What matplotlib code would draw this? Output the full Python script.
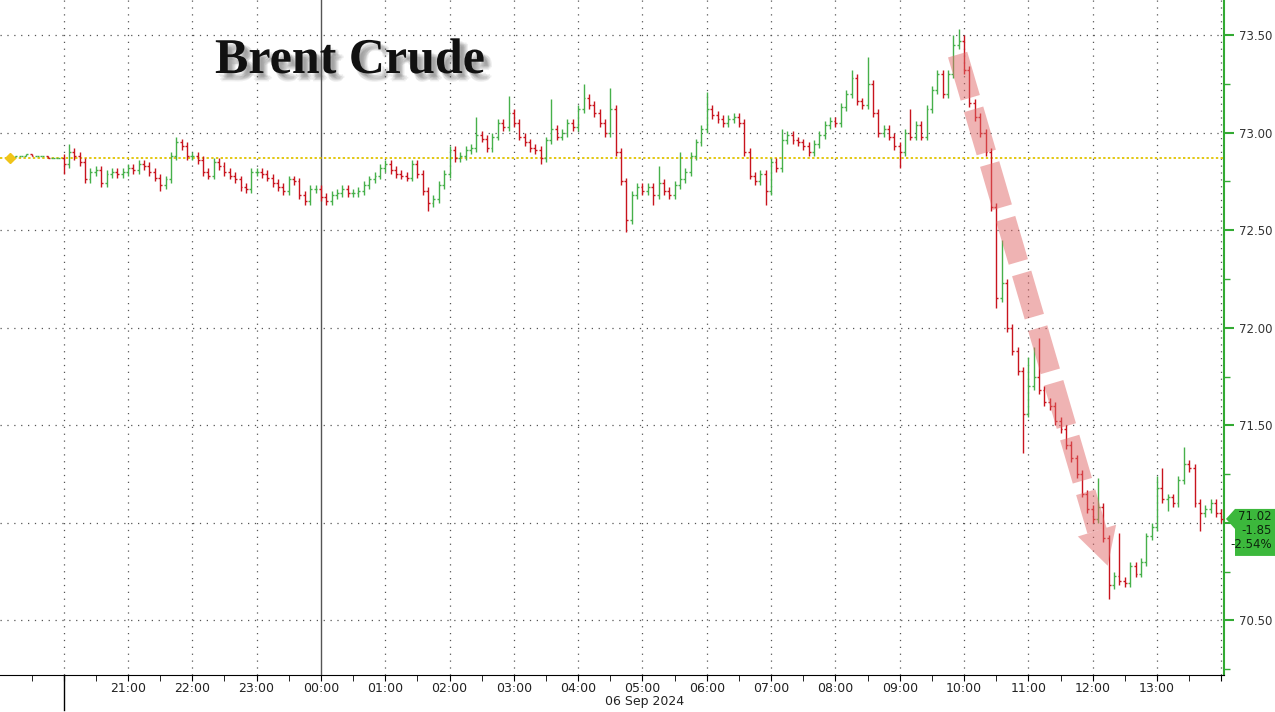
import numpy as np
import pandas as pd
import matplotlib
matplotlib.use("Agg")
import matplotlib.pyplot as plt
import matplotlib.dates as mdates
import matplotlib.patheffects as pe
from matplotlib.collections import LineCollection
from matplotlib.patches import Polygon
from matplotlib.ticker import FuncFormatter, MultipleLocator
from matplotlib.transforms import IdentityTransform, blended_transform_factory

# ----------------------
# Data: Brent 5-minute bars, 05 Sep 19:10 -> 06 Sep 14:00
# ----------------------
first_bar = "2024-09-05 19:10"
bar_freq = "5min"
prev_close = 72.87

closes_evening = [
    72.87, 72.88, 72.88, 72.89, 72.88, 72.88, 72.88, 72.87, 72.87, 72.87,          # 19:10
    72.84, 72.90, 72.88, 72.85, 72.76, 72.80, 72.81, 72.74, 72.79, 72.80, 72.79, 72.80,  # 20:00
    72.82, 72.81, 72.84, 72.83, 72.80, 72.77, 72.73, 72.76, 72.88, 72.95, 72.93, 72.88,  # 21:00
    72.88, 72.86, 72.80, 72.78, 72.85, 72.83, 72.80, 72.78, 72.76, 72.72, 72.71, 72.80,  # 22:00
    72.80, 72.79, 72.77, 72.74, 72.72, 72.70, 72.76, 72.75, 72.68, 72.65, 72.71, 72.71,  # 23:00
]
closes_overnight = [
    72.67, 72.65, 72.68, 72.69, 72.71, 72.69, 72.69, 72.70, 72.73, 72.76, 72.78, 72.82,  # 00:00
    72.84, 72.81, 72.79, 72.78, 72.77, 72.84, 72.79, 72.70, 72.64, 72.66, 72.73, 72.79,  # 01:00
    72.91, 72.87, 72.88, 72.91, 72.92, 72.99, 72.97, 72.92, 72.98, 73.05, 73.03, 73.10,  # 02:00
    73.05, 72.98, 72.95, 72.92, 72.91, 72.87, 72.96, 73.02, 72.98, 73.00, 73.05, 73.03,  # 03:00
    73.12, 73.18, 73.14, 73.10, 73.05, 73.00, 73.12, 72.90, 72.75, 72.55, 72.68, 72.72,  # 04:00
    72.70, 72.72, 72.68, 72.74, 72.70, 72.68, 72.73, 72.76, 72.80, 72.88, 72.95, 73.02,  # 05:00
]
closes_morning = [
    73.12, 73.09, 73.07, 73.05, 73.07, 73.08, 73.05, 72.90, 72.78, 72.75, 72.79, 72.70,  # 06:00
    72.85, 72.82, 72.96, 72.99, 72.96, 72.95, 72.93, 72.90, 72.94, 72.99, 73.04, 73.06,  # 07:00
    73.05, 73.13, 73.20, 73.28, 73.16, 73.14, 73.25, 73.10, 73.00, 73.02, 72.98, 72.93,  # 08:00
    72.90, 73.00, 72.98, 73.04, 72.98, 73.12, 73.22, 73.30, 73.20, 73.30, 73.45, 73.47,  # 09:00
]
closes_selloff = [
    73.32, 73.15, 73.08, 73.00, 72.90, 72.62, 72.15, 72.23, 72.00, 71.88, 71.78, 71.56,  # 10:00
    71.70, 71.75, 71.68, 71.62, 71.60, 71.52, 71.48, 71.40, 71.33, 71.25, 71.15, 71.07,  # 11:00
    71.02, 71.08, 70.92, 70.68, 70.73, 70.70, 70.69, 70.78, 70.74, 70.80, 70.93, 70.98,  # 12:00
    71.18, 71.12, 71.13, 71.10, 71.22, 71.30, 71.28, 71.10, 71.05, 71.07, 71.10, 71.05,  # 13:00
    71.02,
]

# bars whose wick reaches further than the body
wick_highs = {
    "20:05": 72.94, "21:45": 72.98, "02:25": 73.08, "02:55": 73.19, "03:35": 73.17,
    "04:05": 73.25, "04:30": 73.23, "05:15": 72.83, "05:35": 72.90, "06:00": 73.21,
    "07:10": 73.02, "08:15": 73.32, "08:30": 73.39, "09:10": 73.12, "09:50": 73.50,
    "09:55": 73.53, "10:00": 73.50, "10:35": 72.45, "11:00": 71.85, "11:05": 71.90,
    "11:10": 71.95, "12:05": 71.23, "12:25": 70.95, "13:00": 71.24, "13:05": 71.28,
    "13:25": 71.39,
}
wick_lows = {
    "20:00": 72.79, "21:30": 72.70, "23:45": 72.63, "01:40": 72.60, "03:25": 72.84,
    "04:45": 72.49, "05:10": 72.63, "06:55": 72.63, "09:00": 72.82, "10:30": 72.10,
    "10:55": 71.36, "12:15": 70.61, "13:10": 71.06, "13:40": 70.96,
}
wick = 0.02
quiet_until = pd.Timestamp("2024-09-05 20:00")

GREEN = "#46b04a"
RED = "#c8141e"
AXIS_GREEN = "#33aa33"

closes = closes_evening + closes_overnight + closes_morning + closes_selloff
times = pd.date_range(first_bar, periods=len(closes), freq=bar_freq)
tnum = mdates.date2num(times.to_pydatetime())
last = closes[-1]

# ----------------------
# Figure
# ----------------------
fig = plt.figure(figsize=(12.75, 7.12), dpi=100)
ax = fig.add_axes([0, 37 / 712, 1224 / 1275, 675 / 712])
ax.set_xlim(pd.Timestamp("2024-09-05 19:00:36"), pd.Timestamp("2024-09-06 14:02:30"))
ax.set_ylim(70.22, 73.68)

# grid
for h in pd.date_range("2024-09-05 20:00", "2024-09-06 14:00", freq="1h"):
    if h.hour == 0:
        ax.axvline(h, color="#555555", lw=1.0, zorder=1)
    else:
        ax.axvline(h, color="#555555", lw=0.9, ls=(0, (1, 4.5)), zorder=1)
y_ticks = np.arange(70.5, 73.51, 0.5)
for y in y_ticks:
    ax.axhline(y, color="#555555", lw=0.9, ls=(0, (1, 4.5)), zorder=1)

# previous close
ax.axhline(prev_close, color="#e2c400", lw=1.3, ls=(0, (1.3, 1.3)), zorder=2)

# OHLC bars
d = 1.8 / 1440
segs, cols = [], []
opens = [prev_close] + closes[:-1]
for t, tn, o, c in zip(times, tnum, opens, closes):
    key = t.strftime("%H:%M")
    w = 0.0 if t < quiet_until else wick
    hi = max(o, c) + w
    lo = min(o, c) - w
    if key in wick_highs:
        hi = max(hi, wick_highs[key])
    if key in wick_lows:
        lo = min(lo, wick_lows[key])
    col = GREEN if c >= o else RED
    segs += [[(tn, lo), (tn, hi)], [(tn - d, o), (tn, o)], [(tn, c), (tn + d, c)]]
    cols += [col] * 3
ax.add_collection(LineCollection(segs, colors=cols, linewidths=1.0, zorder=3))

ax.plot(times[0], prev_close, marker="D", ms=5, color="#f0c419", zorder=5)

# axes styling
for s in ["left", "top"]:
    ax.spines[s].set_visible(False)
ax.spines["bottom"].set_color("black")
ax.spines["right"].set_color(AXIS_GREEN)
ax.spines["right"].set_linewidth(1.5)

ax.xaxis.set_major_locator(mdates.HourLocator())
ax.xaxis.set_minor_locator(mdates.MinuteLocator(byminute=[30]))


def hour_label(x, pos):
    dt = mdates.num2date(x)
    if dt.hour in (20, 14):
        return ""
    return dt.strftime("%H:%M")


def price_label(v, pos):
    # the level under the last-price box is hidden by it
    if abs(v - last) < 0.1:
        return ""
    return f"{v:.2f}"


ax.xaxis.set_major_formatter(FuncFormatter(hour_label))
ax.tick_params(axis="x", which="both", direction="out", length=4, color="black",
               labelsize=9, labelcolor="#222222", pad=1)

ax.yaxis.tick_right()
ax.set_yticks(y_ticks)
ax.yaxis.set_major_formatter(FuncFormatter(price_label))
ax.yaxis.set_minor_locator(MultipleLocator(0.25))
ax.tick_params(axis="y", which="major", length=7, width=1.5, color=AXIS_GREEN,
               labelsize=8.5, labelcolor="#333333", pad=4)
ax.tick_params(axis="y", which="minor", length=4, width=1, color=AXIS_GREEN)

# day separator under the axis
sep = blended_transform_factory(ax.transData, ax.transAxes)
ax.plot([quiet_until, quiet_until], [0, -35 / 675], transform=sep, color="black",
        lw=1, clip_on=False)
fig.text(645 / 1275, 1 - 702 / 712, "06 Sep 2024", ha="center", va="center",
         fontsize=9, color="#222222")

# red dashed arrow (annotation)
arrow_start = (pd.Timestamp("2024-09-06 09:54"), 73.40)
arrow_end = (pd.Timestamp("2024-09-06 12:04"), 70.96)
arrow_tip = (pd.Timestamp("2024-09-06 12:14"), 70.78)
ax.plot([arrow_start[0], arrow_end[0]], [arrow_start[1], arrow_end[1]],
        color="#e06868", alpha=0.5, lw=14.4, dashes=(2.25, 0.6),
        dash_capstyle="butt", solid_capstyle="butt", zorder=4)
p1 = ax.transData.transform((mdates.date2num(arrow_end[0]), arrow_end[1]))
pt = ax.transData.transform((mdates.date2num(arrow_tip[0]), arrow_tip[1]))
u = (pt - p1) / np.linalg.norm(pt - p1)
n = np.array([-u[1], u[0]])
head = Polygon([p1 + 20 * n, p1 - 20 * n, pt], closed=True, transform=IdentityTransform(),
               facecolor="#e06868", edgecolor="none", alpha=0.5, zorder=4)
fig.add_artist(head)

# last price box
chg = last - prev_close
pct = chg / prev_close * 100
y0 = ax.transData.transform((0, last))[1]
xa = 1226
box = Polygon([(xa, y0), (xa + 9, y0 + 10), (1275, y0 + 10), (1275, y0 - 37),
               (xa + 9, y0 - 37), (xa + 9, y0 - 10)], closed=True,
              transform=IdentityTransform(), facecolor="#3cb83c", edgecolor="none")
fig.add_artist(box)
fig.text(1272 / 1275, (y0 + 9) / 712,
         "\n".join([f"{last:.2f}", f"{chg:.2f}", f"{pct:.2f}%"]),
         ha="right", va="top", fontsize=8.5, color="#0d260d", linespacing=1.12)

# title with a soft drop shadow
shadow = [pe.SimplePatchShadow(offset=off, shadow_rgbFace="#555555", alpha=0.09)
          for off in [(2, -2), (3, -3), (4, -4), (5, -5), (3, -5), (5, -3), (4, -6), (6, -4)]]
fig.text(215 / 1275, 1 - 73 / 712, "Brent Crude", fontsize=36, fontweight="bold",
         family="Liberation Serif", ha="left", va="baseline", color="#111111",
         path_effects=shadow + [pe.Normal()])

fig.savefig("out.png", dpi=100)
